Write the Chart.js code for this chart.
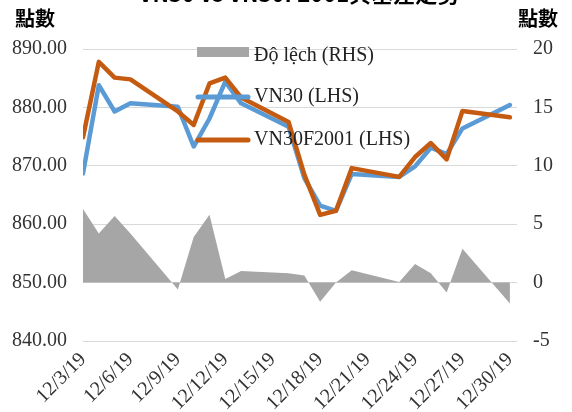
<!DOCTYPE html>
<html>
<head>
<meta charset="utf-8">
<script src="https://cdn.jsdelivr.net/npm/chart.js@4.4.1/dist/chart.umd.min.js"></script>
<style>
  html, body { margin: 0; padding: 0; background: #fff; }
  #wrap { width: 572px; height: 412px; }
</style>
</head>
<body>
<div id="wrap"><canvas id="chart" width="572" height="412"></canvas></div>
<script>
// 資料
const dates = ['12/3/19', '12/4/19', '12/5/19', '12/6/19', '12/9/19', '12/10/19', '12/11/19',
  '12/12/19', '12/13/19', '12/16/19', '12/17/19', '12/18/19', '12/19/19', '12/20/19',
  '12/23/19', '12/24/19', '12/25/19', '12/26/19', '12/27/19', '12/30/19'];
const vn30 = [868.7, 883.8, 879.3, 880.7, 880.1, 873.3, 878.1, 884.4, 880.7, 876.7,
  867.9, 863.2, 862.3, 868.6, 868.1, 869.9, 873.1, 872.0, 876.4, 880.4];
const vn30f2001 = [874.9, 887.8, 885.1, 884.8, 879.3, 877.0, 884.1, 885.1, 881.7, 877.5,
  868.5, 861.6, 862.3, 869.6, 868.1, 871.5, 873.9, 871.1, 879.4, 878.3];
const doLech = [6.3, 4.2, 5.7, 4.2, -0.6, 3.9, 5.8, 0.3, 1.0, 0.8,
  0.6, -1.65, 0.0, 1.05, 0.05, 1.6, 0.8, -0.85, 2.9, -1.8];
const xTicks = ['12/3/19', '12/6/19', '12/9/19', '12/12/19', '12/15/19',
  '12/18/19', '12/21/19', '12/24/19', '12/27/19', '12/30/19'];

const titleText = 'VN30 vs VN30F2001與基差走勢';
const axisTitle = '點數';

const dayOf = s => Number(s.split('/')[1]);
const pts = arr => arr.map((v, i) => ({ x: dayOf(dates[i]), y: v }));

const serif = '"Liberation Serif", "Times New Roman", serif';
const cjk = '"Noto Sans CJK TC", "Noto Sans CJK SC", sans-serif';

const extras = {
  id: 'extras',
  afterDraw(chart) {
    const ctx = chart.ctx;
    ctx.save();
    ctx.fillStyle = '#000';
    // 標題 (上半部被裁掉)
    ctx.font = 'bold 22px ' + cjk;
    ctx.textAlign = 'center';
    ctx.textBaseline = 'alphabetic';
    ctx.fillText(titleText, 299, 1.5);
    // 軸標題
    ctx.font = 'bold 20px ' + cjk;
    ctx.textBaseline = 'middle';
    ctx.fillText(axisTitle, 35, 18);
    ctx.fillText(axisTitle, 538, 18);

    // 圖例
    const rows = [56, 97, 140];
    ctx.font = '20px ' + serif;
    ctx.textAlign = 'left';
    chart.data.datasets.forEach((ds, i) => {
      const y = rows[i];
      if (ds.fill) {
        ctx.fillStyle = ds.backgroundColor;
        ctx.fillRect(197, 47, 52, 10);
      } else {
        ctx.strokeStyle = ds.borderColor;
        ctx.lineWidth = 5;
        ctx.lineCap = 'round';
        ctx.beginPath();
        ctx.moveTo(198, y);
        ctx.lineTo(248, y);
        ctx.stroke();
      }
      ctx.fillStyle = '#222';
      ctx.fillText(ds.label, 254, y);
    });
    ctx.restore();
  }
};

new Chart(document.getElementById('chart').getContext('2d'), {
  type: 'line',
  data: {
    datasets: [
      {
        label: 'Độ lệch (RHS)',
        data: pts(doLech),
        yAxisID: 'y2',
        fill: 'origin',
        backgroundColor: '#A6A6A6',
        borderWidth: 0,
        pointRadius: 0,
        order: 2
      },
      {
        label: 'VN30 (LHS)',
        data: pts(vn30),
        yAxisID: 'y',
        borderColor: '#5B9BD5',
        borderWidth: 4.5,
        borderJoinStyle: 'round',
        borderCapStyle: 'round',
        pointRadius: 0,
        fill: false,
        order: 1
      },
      {
        label: 'VN30F2001 (LHS)',
        data: pts(vn30f2001),
        yAxisID: 'y',
        borderColor: '#C55A11',
        borderWidth: 4.5,
        borderJoinStyle: 'round',
        borderCapStyle: 'round',
        pointRadius: 0,
        fill: false,
        order: 0
      }
    ]
  },
  options: {
    responsive: false,
    devicePixelRatio: 1,
    animation: false,
    layout: { padding: { top: 49, left: 0, right: 0, bottom: 0 } },
    plugins: {
      legend: { display: false },
      tooltip: { enabled: false }
    },
    scales: {
      x: {
        type: 'linear',
        min: dayOf(dates[0]),
        max: dayOf(dates[dates.length - 1]) + 0.45,
        afterBuildTicks: (scale) => {
          scale.ticks = xTicks.map(t => ({ value: dayOf(t) }));
        },
        afterFit: (scale) => { scale.height = 71; },
        grid: { display: false, drawTicks: false },
        border: { display: false },
        ticks: {
          minRotation: 45,
          maxRotation: 45,
          padding: 7,
          color: '#333',
          font: { family: serif, size: 20 },
          callback: (v) => xTicks.find(t => dayOf(t) === v) || ''
        }
      },
      y: {
        position: 'left',
        min: 840,
        max: 890,
        afterFit: (scale) => { scale.width = 83; },
        grid: { color: '#D9D9D9', lineWidth: 1, drawTicks: false },
        border: { display: false },
        ticks: {
          stepSize: 10,
          padding: 16,
          color: '#333',
          font: { family: serif, size: 20 },
          callback: (v) => v.toFixed(2)
        }
      },
      y2: {
        position: 'right',
        min: -5,
        max: 20,
        afterFit: (scale) => { scale.width = 55; },
        grid: { display: false, drawTicks: false },
        border: { display: false },
        ticks: {
          stepSize: 5,
          padding: 16,
          color: '#333',
          font: { family: serif, size: 20 }
        }
      }
    }
  },
  plugins: [extras]
});
</script>
</body>
</html>
